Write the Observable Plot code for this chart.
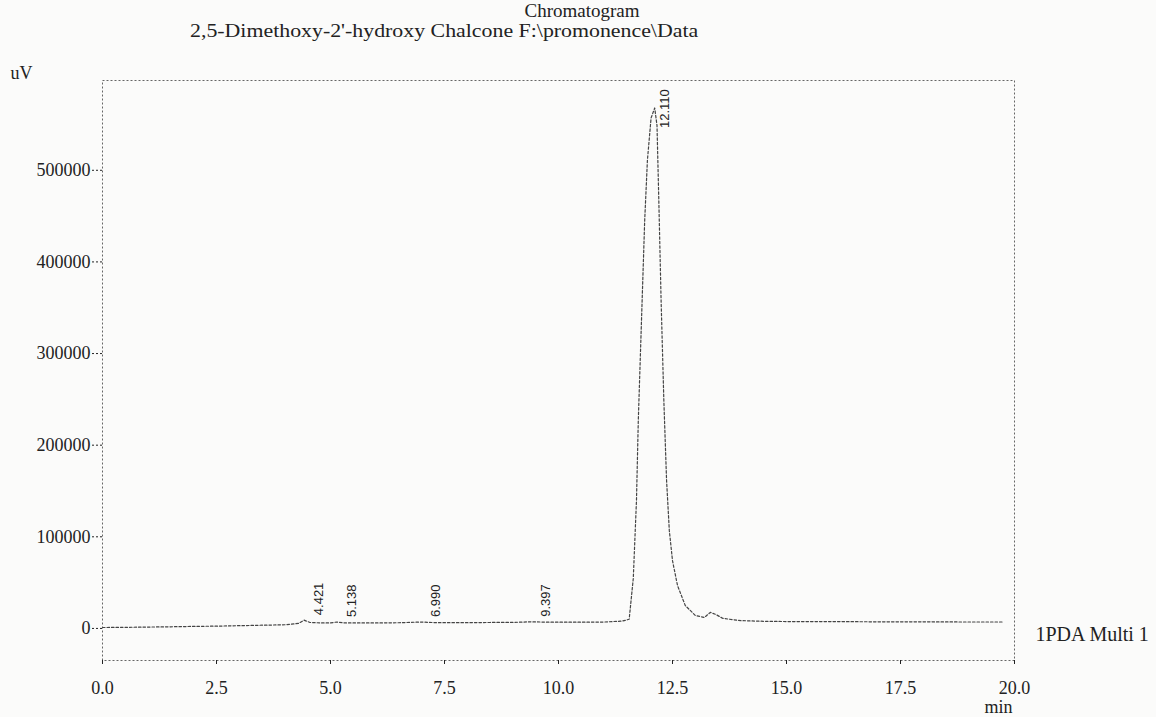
<!DOCTYPE html>
<html><head><meta charset="utf-8">
<script src="https://cdn.jsdelivr.net/npm/d3@7"></script>
<script src="https://cdn.jsdelivr.net/npm/@observablehq/plot@0.6"></script>
<style>
html,body{margin:0;padding:0;background:#fbfbfa;}
#wrap{position:relative;width:1156px;height:717px;overflow:hidden;font-family:"Liberation Serif","Times New Roman",serif;color:#222;}
#head{position:relative;height:63px;}
#title{position:absolute;left:582px;top:1px;transform:translateX(-50%);font-size:19px;line-height:20px;white-space:nowrap;}
#subtitle{position:absolute;left:190px;top:21px;font-size:19px;line-height:20px;white-space:nowrap;transform:scaleX(1.15);transform-origin:0 50%;}
svg{display:block}
</style></head><body>
<div id="wrap">
  <div id="head">
    <div id="title">Chromatogram</div>
    <div id="subtitle">2,5-Dimethoxy-2'-hydroxy Chalcone F:\promonence\Data</div>
  </div>
  <div id="chart"></div>
</div>
<script>
// Retention time (min) and detector signal (uV)
const times = [0.0, 0.5, 1.0, 1.5, 2.0, 2.5, 3.0, 3.5, 4.0, 4.3, 4.42, 4.55, 4.8, 5.0, 5.14, 5.3,
  6.0, 6.5, 6.99, 7.3, 8.0, 8.5, 9.0, 9.4, 9.8, 10.5, 11.0, 11.4, 11.55,
  11.64, 11.71, 11.75, 11.82, 11.89, 11.95, 12.03, 12.11, 12.16, 12.20, 12.25, 12.31, 12.37, 12.43, 12.50, 12.61, 12.78,
  13.0, 13.2, 13.33, 13.45, 13.6, 14.0, 14.5, 15.0, 16.0, 17.0, 18.0, 19.0, 19.75];
const uv = [1000, 1200, 1500, 1800, 2200, 2500, 3000, 3500, 4000, 5500, 9000, 6500, 6000, 6000, 7000, 6000,
  6000, 6200, 7000, 6300, 6300, 6500, 6600, 7200, 6800, 6800, 7000, 8000, 10000,
  54600, 139700, 227000, 336000, 445000, 511000, 557000, 568000, 549000, 467000, 358000, 249000, 161600, 107000, 74000, 46800, 25000,
  14200, 12000, 17500, 15300, 11000, 8500, 7800, 7500, 7500, 7200, 7200, 7000, 7000];
const peakTimes = [4.421, 5.138, 6.990, 9.397, 12.110];
const peakLabels = ["4.421", "5.138", "6.990", "9.397", "12.110"];
const xTicks = [0, 2.5, 5, 7.5, 10, 12.5, 15, 17.5, 20];
const yTicks = [0, 100000, 200000, 300000, 400000, 500000];
const channelName = "1PDA Multi 1";
const xUnit = "min";
const yUnit = "uV";

const series = times.map((t, i) => ({t, v: uv[i]}));
const nearest = t => series.reduce((a, b) => Math.abs(b.t - t) < Math.abs(a.t - t) ? b : a);
const peaks = peakTimes.map((t, i) => ({t, v: nearest(t).v, label: peakLabels[i]}));
const serif = "Liberation Serif, Times New Roman, serif";
const sans = "Liberation Sans, Arial, sans-serif";

const chart = Plot.plot({
  width: 1156, height: 654,
  marginLeft: 102, marginRight: 142, marginTop: 17, marginBottom: 57,
  style: {background: "transparent", fontFamily: serif, fontSize: "18px", color: "#222"},
  x: {domain: [0, 20]},
  y: {domain: [-35000, 598000]},
  marks: [
    Plot.frame({stroke: "#666", strokeDasharray: "2,2"}),
    Plot.axisY({ticks: yTicks, tickFormat: d => String(d), tickSize: 10, tickPadding: 2,
      strokeDasharray: "2,2", label: yUnit, labelAnchor: "top", labelArrow: "none", labelOffset: 92, fontSize: 18}),
    Plot.axisX({ticks: xTicks, tickFormat: d3.format(".1f"), tickSize: 4, tickPadding: 17, label: null, fontSize: 18}),
    Plot.line(series, {x: "t", y: "v", stroke: "#444", strokeWidth: 1.2, strokeDasharray: "2.5,2"}),
    Plot.text(peaks.filter(d => d.v < 100000), {x: "t", y: "v", text: "label", rotate: -90, textAnchor: "start",
      dx: 15, dy: -5, fontFamily: sans, fontSize: 13, fill: "#222"}),
    Plot.text(peaks.filter(d => d.v >= 100000), {x: "t", y: "v", text: "label", rotate: -90, textAnchor: "start",
      dx: 10, dy: 20, fontFamily: sans, fontSize: 13, fill: "#222"}),
    Plot.text([xUnit], {frameAnchor: "bottom-right", textAnchor: "middle", dx: -16, dy: 52, fontSize: 18, fill: "#222"}),
    Plot.text([channelName], {frameAnchor: "bottom-right", textAnchor: "start", dx: 21, dy: -20, fontSize: 20, fill: "#222"})
  ]
});
document.getElementById("chart").appendChild(chart);
</script>
</body></html>
